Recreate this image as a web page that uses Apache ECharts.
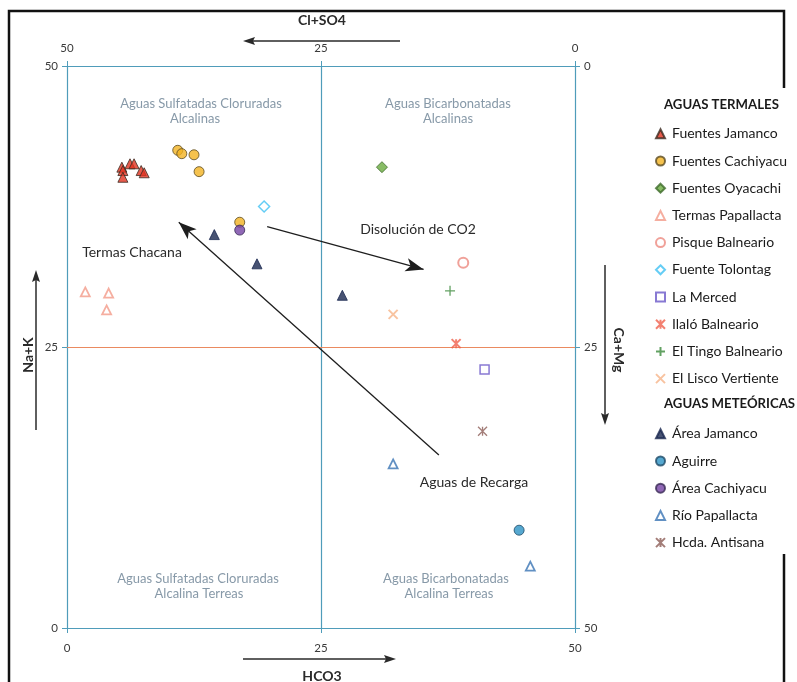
<!DOCTYPE html>
<html>
<head>
<meta charset="utf-8">
<script src="https://cdn.jsdelivr.net/npm/echarts@6/dist/echarts.min.js"></script>
<style>
html,body{margin:0;padding:0;background:#fff;}
#chart{width:797px;height:682px;}
</style>
</head>
<body>
<div id="chart"></div>
<script>
// Piper-style diamond quadrant plot: HCO3 (x) vs Na+K (y), meq %
const fuentesJamanco = [[5.4,41.0],[6.2,41.3],[6.6,41.3],[5.5,40.7],[5.5,40.1],[7.3,40.7],[7.6,40.5]];
const fuentesCachiyacu = [[10.9,42.5],[11.3,42.2],[12.5,42.1],[13.0,40.6],[17.0,36.1]];
const fuentesOyacachi = [[31.0,41.0]];
const termasPapallacta = [[1.8,29.9],[4.1,29.8],[3.9,28.3]];
const pisqueBalneario = [[39.0,32.5]];
const fuenteTolontag = [[19.4,37.5]];
const laMerced = [[41.1,23.0]];
const ilaloBalneario = [[38.3,25.3]];
const elTingo = [[37.7,30.0]];
const elLisco = [[32.1,27.9]];
const areaJamanco = [[14.5,35.0],[18.7,32.4],[27.1,29.6]];
const aguirre = [[44.5,8.7]];
const areaCachiyacu = [[17.0,35.4]];
const rioPapallacta = [[32.1,14.6],[45.6,5.5]];
const hcdaAntisana = [[40.9,17.5]];

// trend arrows (start -> end) in data units
const arrowCO2 = [[19.7,35.7],[35.1,31.9]];
const arrowRecarga = [[36.6,15.4],[11.0,36.1]];

const termalesNames = ['Fuentes Jamanco','Fuentes Cachiyacu','Fuentes Oyacachi','Termas Papallacta','Pisque Balneario','Fuente Tolontag','La Merced','Ilaló Balneario','El Tingo Balneario','El Lisco Vertiente'];
const meteoricasNames = ['Área Jamanco','Aguirre','Área Cachiyacu','Río Papallacta','Hcda. Antisana'];

const FONT = 'Lato, "Open Sans", sans-serif';
const BLUE = '#4f9cba';
const ORANGE = '#ea8a60';

const xPath = 'path://M0,0L10,10M10,0L0,10';
const plusPath = 'path://M5,0L5,10M0,5L10,5';
const starPath = 'path://M0,0L10,10M10,0L0,10M5,0L5,10';

function sc(name, data, symbol, size, style){
  return {name, type:'scatter', data, symbol, symbolSize:size, itemStyle:style,
    xAxisIndex:0, yAxisIndex:0, emphasis:{disabled:true}, z:5};
}
const filled = (c, b) => ({color:c, borderColor:b, borderWidth:1});
const hollow = (b, w) => ({color:'#ffffff', borderColor:b, borderWidth:w||1.5});
const stroke = (b, w) => ({color:'rgba(0,0,0,0)', borderColor:b, borderWidth:w||1.5});

const series = [
  sc('Fuentes Jamanco', fuentesJamanco, 'triangle', 10, filled('#e2321f','#3a2a20')),
  sc('Fuentes Cachiyacu', fuentesCachiyacu, 'circle', 10, filled('#f2b322','#5a4a22')),
  sc('Fuentes Oyacachi', fuentesOyacachi, 'diamond', 11, filled('#6aab3e','#3d6a2a')),
  sc('Termas Papallacta', termasPapallacta, 'triangle', 9, hollow('#f29a88', 1.8)),
  sc('Pisque Balneario', pisqueBalneario, 'circle', 10, hollow('#ec8a80', 2)),
  sc('Fuente Tolontag', fuenteTolontag, 'diamond', 11, hollow('#3fc0f2')),
  sc('La Merced', laMerced, 'rect', 9, hollow('#6a58c8')),
  sc('Ilaló Balneario', ilaloBalneario, starPath, 9, stroke('#f0604c', 2)),
  sc('El Tingo Balneario', elTingo, plusPath, 10, stroke('#3b8a3b', 1.3)),
  sc('El Lisco Vertiente', elLisco, xPath, 9, stroke('#f6b488', 2)),
  sc('Área Jamanco', areaJamanco, 'triangle', 10, filled('#1a2850','#1a2850')),
  sc('Aguirre', aguirre, 'circle', 10, filled('#2c92c4','#1e4a66')),
  sc('Área Cachiyacu', areaCachiyacu, 'circle', 10, filled('#7442a4','#3a2a55')),
  sc('Río Papallacta', rioPapallacta, 'triangle', 9, hollow('#3a74b4', 1.8)),
  sc('Hcda. Antisana', hcdaAntisana, starPath, 9, stroke('#8c5c56', 1.3))
];

// quadrant dividers and trend arrows
series.push({
  type:'line', data:[], xAxisIndex:0, yAxisIndex:0, silent:true, z:2,
  markLine:{
    silent:true, symbol:'none', animation:false,
    label:{show:false},
    data:[
      {xAxis:25, lineStyle:{color:BLUE, width:1.2, type:'solid'}},
      {yAxis:25, lineStyle:{color:ORANGE, width:1.2, type:'solid'}},
      [{coord:arrowCO2[0], symbol:'none'},{coord:arrowCO2[1], symbol:'arrow', symbolSize:[10,18], lineStyle:{color:'#1e1e1e', width:1.3, type:'solid'}}],
      [{coord:arrowRecarga[0], symbol:'none'},{coord:arrowRecarga[1], symbol:'arrow', symbolSize:[10,18], lineStyle:{color:'#1e1e1e', width:1.3, type:'solid'}}]
    ]
  }
});

const axisLabel = {color:'#3a3a3a', fontFamily:FONT, fontSize:11.5};
const axisLine = {show:true, lineStyle:{color:BLUE, width:1.2}};
const axisTick = {show:true, length:5, lineStyle:{color:BLUE}};

const GRID = {left:67, top:66, width:508, height:562};

const legendCommon = {
  orient:'vertical', left:650, itemWidth:9, itemHeight:9, itemGap:13.2,
  textStyle:{color:'#1a1a1a', fontFamily:FONT, fontSize:14, padding:[0,0,0,2]},
  selectedMode:false
};

// outer frame, with the legend panel laid over its right edge
const graphicTexts = [
  {type:'polyline', shape:{points:[[9,700],[9,11],[784,11],[784,700]]}, style:{stroke:'#111', lineWidth:2.5, fill:null}},
  {type:'rect', shape:{x:642, y:88, width:155, height:466}, style:{fill:'#ffffff'}}
];
function txt(x, y, text, opts){
  graphicTexts.push({type:'text', x, y, style:Object.assign({text, fontFamily:FONT, fill:'#2a2a2a', fontSize:13, textAlign:'center', textVerticalAlign:'middle'}, opts||{})});
}
function arrow(points, head){
  graphicTexts.push({type:'polyline', shape:{points}, style:{stroke:'#2a2a2a', lineWidth:1.5}});
  graphicTexts.push({type:'polygon', shape:{points:head}, style:{fill:'#2a2a2a'}});
}

// axis titles with their direction arrows
txt(322, 20, 'Cl+SO4', {fontWeight:'bold', fontSize:14});
arrow([[400,41],[250,41]], [[243,41],[255,37],[253,41],[255,45]]);
txt(322, 676, 'HCO3', {fontWeight:'bold', fontSize:14});
arrow([[243,659],[388,659]], [[396,659],[384,655],[386,659],[384,663]]);
graphicTexts.push({type:'text', x:28, y:355, rotation:Math.PI/2, style:{text:'Na+K', fontFamily:FONT, fontWeight:'bold', fontSize:14, fill:'#2a2a2a', textAlign:'center', textVerticalAlign:'middle'}});
arrow([[36,430],[36,278]], [[36,270],[32,282],[36,280],[40,282]]);
graphicTexts.push({type:'text', x:619, y:350, rotation:-Math.PI/2, style:{text:'Ca+Mg', fontFamily:FONT, fontWeight:'bold', fontSize:14, fill:'#2a2a2a', textAlign:'center', textVerticalAlign:'middle'}});
arrow([[605,265],[605,417]], [[605,425],[601,413],[605,415],[609,413]]);

// quadrant names
const QC = '#8799a8';
const QS = 13;
txt(201, 104, 'Aguas Sulfatadas Cloruradas', {fill:QC, fontSize:QS});
txt(195, 119, 'Alcalinas', {fill:QC, fontSize:QS});
txt(448, 104, 'Aguas Bicarbonatadas', {fill:QC, fontSize:QS});
txt(448, 119, 'Alcalinas', {fill:QC, fontSize:QS});
txt(198, 579, 'Aguas Sulfatadas Cloruradas', {fill:QC, fontSize:QS});
txt(199, 594, 'Alcalina Terreas', {fill:QC, fontSize:QS});
txt(446, 579, 'Aguas Bicarbonatadas', {fill:QC, fontSize:QS});
txt(449, 594, 'Alcalina Terreas', {fill:QC, fontSize:QS});

// process annotations
txt(132, 252, 'Termas Chacana', {fontSize:14});
txt(418, 229, 'Disolución de CO2', {fontSize:14});
txt(474, 482, 'Aguas de Recarga', {fontSize:14});

// legend group headers
txt(664, 105, 'AGUAS TERMALES', {fontWeight:'bold', fontSize:13.2, fill:'#1a1a1a', textAlign:'left'});
txt(664, 404, 'AGUAS METEÓRICAS', {fontWeight:'bold', fontSize:13.2, fill:'#1a1a1a', textAlign:'left'});

const chart = echarts.init(document.getElementById('chart'), null, {renderer:'canvas'});
chart.setOption({
  animation:false,
  backgroundColor:'#ffffff',
  grid:GRID,
  xAxis:[
    {type:'value', min:0, max:50, interval:25, position:'bottom', axisLine, axisTick, splitLine:{show:false}, axisLabel:Object.assign({margin:14}, axisLabel)},
    {type:'value', min:0, max:50, interval:25, position:'top', inverse:true, axisLine, axisTick, splitLine:{show:false}, axisLabel:Object.assign({margin:12}, axisLabel)}
  ],
  yAxis:[
    {type:'value', min:0, max:50, interval:25, position:'left', axisLine, axisTick, splitLine:{show:false}, axisLabel:Object.assign({margin:9}, axisLabel)},
    {type:'value', min:0, max:50, interval:25, position:'right', inverse:true, axisLine, axisTick, splitLine:{show:false}, axisLabel:Object.assign({margin:9}, axisLabel)}
  ],
  legend:[
    Object.assign({top:121.8, data:termalesNames}, legendCommon),
    Object.assign({top:421.8, data:meteoricasNames}, legendCommon)
  ],
  graphic:graphicTexts,
  series
});
</script>
</body>
</html>
